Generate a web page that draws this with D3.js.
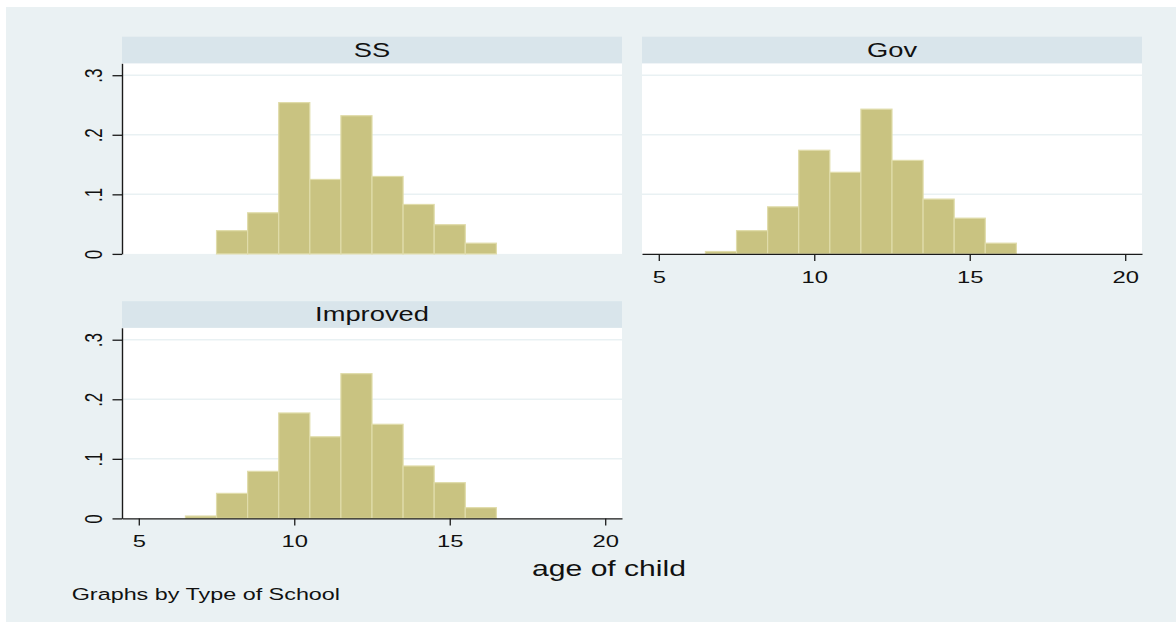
<!DOCTYPE html>
<html>
<head>
<meta charset="utf-8">
<script src="https://cdn.jsdelivr.net/npm/d3@7"></script>
<style>
  html, body { margin: 0; padding: 0; background: #ffffff; }
  svg { display: block; font-family: "Liberation Sans", Arial, sans-serif; }
</style>
</head>
<body>
<svg id="chart" width="1176" height="622"></svg>
<script>
// Histogram densities of child age (bin width 1, bins centred on whole years)
const ageBins = [7, 8, 9, 10, 11, 12, 13, 14, 15, 16];
const ssDensity       = [0,     0.039, 0.069, 0.254, 0.125, 0.232, 0.130, 0.083, 0.049, 0.018];
const govDensity      = [0.004, 0.039, 0.079, 0.174, 0.137, 0.243, 0.157, 0.092, 0.060, 0.018];
const improvedDensity = [0.004, 0.042, 0.079, 0.177, 0.137, 0.243, 0.158, 0.088, 0.060, 0.018];
const schoolTypes = ["SS", "Gov", "Improved"];
const xTicks = [5, 10, 15, 20];
const yTicks = [0, 0.1, 0.2, 0.3];
const yTickLabels = ["0", ".1", ".2", ".3"];
const binWidth = 1;

const series = [ssDensity, govDensity, improvedDensity];

// text is drawn horizontally widened
const SX = 1.4;

const colors = {
  graphBg: "#eaf1f3",
  plotBg: "#ffffff",
  strip: "#d9e5eb",
  grid: "#e9f1f3",
  bar: "#c9c381",
  barEdge: "#e0dcaa",
  axis: "#1a1a1a",
  text: "#111111"
};

const svg = d3.select("#chart");

svg.append("rect")
  .attr("x", 6).attr("y", 7)
  .attr("width", 1170).attr("height", 615)
  .attr("fill", colors.graphBg);

const panelW = 500, stripH = 26.6, plotH = 190.6;
const panels = [
  { left: 122, top: 36.7, yAxis: true,  xAxis: false },
  { left: 642, top: 36.7, yAxis: false, xAxis: true },
  { left: 122, top: 301.2, yAxis: true, xAxis: true }
];

panels.forEach((p, i) => {
  const plotTop = p.top + stripH;
  const plotBottom = plotTop + plotH;
  const x = d3.scaleLinear().domain([4.46, 20.54]).range([p.left, p.left + panelW]);
  const y = d3.scaleLinear().domain([0, 0.32]).range([plotBottom, plotTop]);
  const g = svg.append("g");

  // plot region
  g.append("rect")
    .attr("x", p.left).attr("y", plotTop)
    .attr("width", panelW).attr("height", plotH)
    .attr("fill", colors.plotBg);

  // title strip
  g.append("rect")
    .attr("x", p.left).attr("y", p.top)
    .attr("width", panelW).attr("height", stripH)
    .attr("fill", colors.strip);
  g.append("g")
    .attr("transform", `translate(${p.left + panelW / 2},${p.top + 19.8}) scale(${SX},1)`)
    .append("text")
    .attr("text-anchor", "middle")
    .attr("font-size", 19.5)
    .attr("fill", colors.text)
    .text(schoolTypes[i]);

  // horizontal grid
  g.selectAll("line.grid")
    .data(yTicks.filter(v => v > 0))
    .join("line")
    .attr("class", "grid")
    .attr("x1", p.left).attr("x2", p.left + panelW)
    .attr("y1", d => y(d)).attr("y2", d => y(d))
    .attr("stroke", colors.grid)
    .attr("stroke-width", 1.5);

  // bars
  const bins = ageBins.map((a, k) => ({ age: a, d: series[i][k] })).filter(b => b.d > 0);
  g.selectAll("rect.bar")
    .data(bins)
    .join("rect")
    .attr("class", "bar")
    .attr("x", b => x(b.age - binWidth / 2))
    .attr("width", b => x(b.age + binWidth / 2) - x(b.age - binWidth / 2))
    .attr("y", b => y(b.d))
    .attr("height", b => y(0) - y(b.d))
    .attr("fill", colors.bar)
    .attr("stroke", colors.barEdge)
    .attr("stroke-width", 1.2);

  // y axis
  if (p.yAxis) {
    const ya = g.append("g")
      .attr("transform", `translate(${p.left},0)`)
      .call(d3.axisLeft(y).tickValues(yTicks).tickSize(9.5).tickSizeOuter(0)
        .tickFormat((d, k) => yTickLabels[k]));
    ya.select(".domain").attr("stroke", colors.axis).attr("stroke-width", 1.4);
    ya.selectAll(".tick line").attr("stroke", colors.axis).attr("stroke-width", 1.3);
    ya.selectAll(".tick text")
      .attr("x", null).attr("y", null).attr("dy", null)
      .attr("transform", `translate(-20,0) scale(${SX},1) rotate(-90)`)
      .attr("text-anchor", "middle")
      .attr("font-size", 17)
      .attr("font-family", "Liberation Sans, Arial, sans-serif")
      .attr("fill", colors.text);
  }

  // x axis
  if (p.xAxis) {
    const xa = g.append("g")
      .attr("transform", `translate(0,${plotBottom})`)
      .call(d3.axisBottom(x).tickValues(xTicks).tickSize(7).tickSizeOuter(0));
    xa.select(".domain").attr("stroke", colors.axis).attr("stroke-width", 1.4);
    xa.selectAll(".tick line").attr("stroke", colors.axis).attr("stroke-width", 1.3);
    xa.selectAll(".tick text")
      .attr("y", null).attr("dy", null)
      .attr("transform", `translate(0,28.6) scale(${SX},1)`)
      .attr("text-anchor", "middle")
      .attr("font-size", 17)
      .attr("font-family", "Liberation Sans, Arial, sans-serif")
      .attr("fill", colors.text);
  }
});

// axis title and note
svg.append("g")
  .attr("transform", `translate(609,575.7) scale(${SX},1)`)
  .append("text")
  .attr("text-anchor", "middle")
  .attr("font-size", 21.5)
  .attr("fill", colors.text)
  .text("age of child");

svg.append("g")
  .attr("transform", `translate(71.7,600) scale(${SX},1)`)
  .append("text")
  .attr("font-size", 16.7)
  .attr("fill", colors.text)
  .text("Graphs by Type of School");
</script>
</body>
</html>
